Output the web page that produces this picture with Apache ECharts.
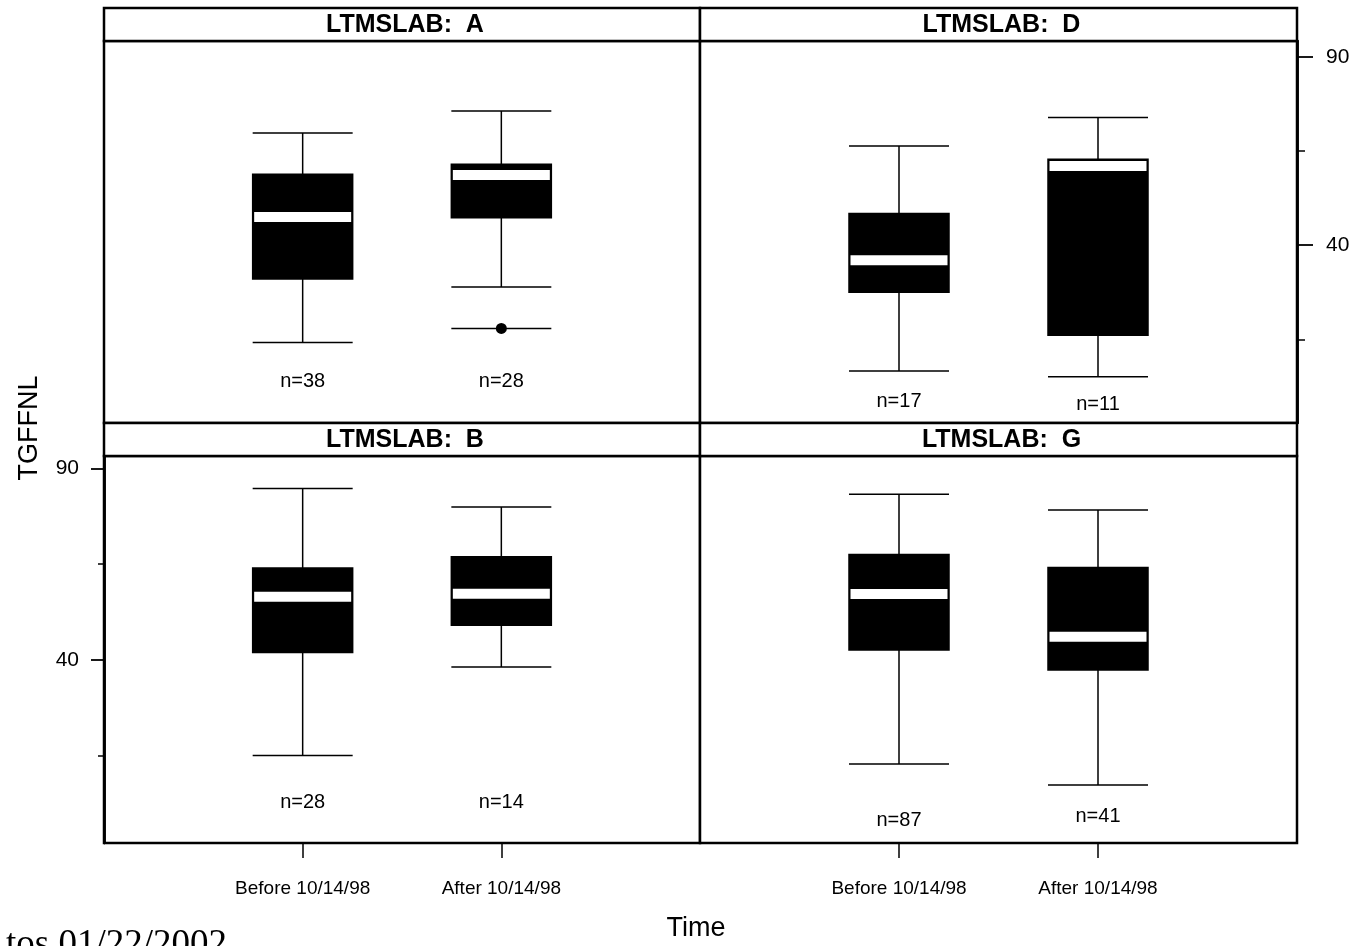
<!DOCTYPE html>
<html>
<head>
<meta charset="utf-8">
<script src="https://cdn.jsdelivr.net/npm/echarts@6/dist/echarts.min.js"></script>
<style>
  html, body { margin: 0; padding: 0; background: #fff; }
  #chart { width: 1358px; height: 946px; }
</style>
</head>
<body>
<div id="chart"></div>
<script>
// TGFFNL by lab (LTMSLAB), before vs after 10/14/98

const labs = ['A', 'D', 'B', 'G'];
const timeGroups = ['Before 10/14/98', 'After 10/14/98'];

// five-number summaries per time group: [min, Q1, median, Q3, max]
const statsA = [[14.2, 31.0, 47.5, 58.8, 69.8], [28.9, 47.3, 58.6, 61.5, 75.6]];
const statsD = [[6.6, 27.5, 36.0, 48.4, 66.3], [5.1, 16.1, 61.0, 62.8, 73.9]];
const statsB = [[15.1, 42.0, 56.5, 64.0, 84.7], [38.2, 49.1, 57.3, 66.9, 79.9]];
const statsG = [[12.9, 42.6, 57.2, 67.5, 83.2], [7.4, 37.4, 46.1, 64.1, 79.1]];

// outlying points: [time group (1 = before, 2 = after), value]
const outliersA = [[2, 17.9]];
const outliersD = [];
const outliersB = [];
const outliersG = [];

// sample sizes per time group
const countsA = [38, 28];
const countsD = [17, 11];
const countsB = [28, 14];
const countsG = [87, 41];

const yLabelTicks = [40, 90];
const yMinorTicks = [15, 65];

const panelStats = [statsA, statsD, statsB, statsG];
const panelOutliers = [outliersA, outliersD, outliersB, outliersG];
const panelCounts = [countsA, countsD, countsB, countsG];

// ---- layout ----
const SANS = "'Liberation Sans', Arial, Helvetica, sans-serif";
const cols = [{ left: 104, width: 596 }, { left: 700, width: 597 }];
const rows = [
  { strip: 8, top: 41, height: 382, min: -7.2, max: 94.2 },
  { strip: 423, top: 456, height: 387, min: -7.7, max: 93.2 }
];
// vertical level (axis units) of the "n=" text in each panel
const countLabelLevel = [[3.7, 3.7], [-1.6, -2.4], [2.8, 2.8], [-1.7, -0.9]];

const grids = [], xAxes = [], yAxes = [], series = [], graphics = [];

labs.forEach((lab, i) => {
  const col = cols[i % 2];
  const row = rows[Math.floor(i / 2)];
  const isBottom = Math.floor(i / 2) === 1;

  grids.push({
    left: col.left, top: row.top, width: col.width, height: row.height,
    show: true, borderColor: '#000', borderWidth: 2.5, backgroundColor: '#fff'
  });

  xAxes.push({
    type: 'value', gridIndex: i, min: 0, max: 3, position: 'bottom',
    show: isBottom,
    axisLine: { show: false, onZero: false },
    splitLine: { show: false },
    axisTick: {
      show: isBottom, customValues: [1, 2], length: 15, inside: false,
      lineStyle: { color: '#000', width: 1.5 }
    },
    axisLabel: {
      show: isBottom, customValues: [1, 2], margin: 36,
      formatter: v => timeGroups[Math.round(v) - 1] || '',
      color: '#000', fontSize: 19, fontFamily: SANS
    }
  });

  yAxes.push({
    type: 'value', gridIndex: i, min: row.min, max: row.max, show: false,
    splitLine: { show: false }
  });

  // strip with the lab name
  graphics.push({
    type: 'rect', z: 10,
    shape: { x: col.left, y: row.strip, width: col.width, height: row.top - row.strip },
    style: { fill: '#fff', stroke: '#000', lineWidth: 2.5 }
  });
  graphics.push({
    type: 'text', z: 11,
    x: col.left + col.width / 2 + 3, y: (row.strip + row.top) / 2 + 1,
    style: {
      text: 'LTMSLAB:  ' + lab, fill: '#000', font: 'bold 25px ' + SANS,
      align: 'center', verticalAlign: 'middle'
    }
  });

  const stats = panelStats[i];

  series.push({
    type: 'boxplot', xAxisIndex: i, yAxisIndex: i, layout: 'horizontal',
    boxWidth: [100, 100], silent: true,
    itemStyle: { color: '#000', borderColor: '#000', borderWidth: 1.5 },
    emphasis: { disabled: true },
    data: stats.map((s, k) => [k + 1].concat(s))
  });

  // white median bar across each box
  series.push({
    type: 'scatter', xAxisIndex: i, yAxisIndex: i, z: 5, silent: true,
    symbol: 'rect', symbolSize: [97, 10],
    itemStyle: { color: '#fff', opacity: 1 },
    data: stats.map((s, k) => [k + 1, s[2]])
  });

  const outs = panelOutliers[i];
  if (outs.length) {
    series.push({
      type: 'scatter', xAxisIndex: i, yAxisIndex: i, z: 5, silent: true,
      symbol: 'rect', symbolSize: [100, 1.6],
      itemStyle: { color: '#000', opacity: 1 },
      data: outs
    });
    series.push({
      type: 'scatter', xAxisIndex: i, yAxisIndex: i, z: 6, silent: true,
      symbol: 'circle', symbolSize: 11,
      itemStyle: { color: '#000', opacity: 1 },
      data: outs
    });
  }

  // sample sizes
  series.push({
    type: 'scatter', xAxisIndex: i, yAxisIndex: i, z: 6, silent: true,
    symbol: 'circle', symbolSize: 1,
    itemStyle: { color: 'rgba(0,0,0,0)', opacity: 1 },
    label: {
      show: true, position: 'inside', color: '#000', opacity: 1, fontSize: 20, fontFamily: SANS,
      formatter: p => 'n=' + p.value[2]
    },
    data: panelCounts[i].map((n, k) => [k + 1, countLabelLevel[i][k], n])
  });
});

// tick axes: left side of lab B panel, right side of lab D panel
function tickAxes(gridIndex, position, majorLen, minorLen, margin) {
  const row = rows[Math.floor(gridIndex / 2)];
  const base = {
    type: 'value', gridIndex, position, min: row.min, max: row.max,
    axisLine: { show: true, onZero: false, lineStyle: { color: '#000', width: 2.5 } },
    splitLine: { show: false }
  };
  yAxes.push(Object.assign({}, base, {
    axisTick: { show: true, customValues: yLabelTicks, length: majorLen, lineStyle: { color: '#000', width: 1.8 } },
    axisLabel: { show: true, customValues: yLabelTicks, margin, color: '#000', fontSize: 21, fontFamily: SANS }
  }));
  yAxes.push(Object.assign({}, base, {
    axisTick: { show: true, customValues: yMinorTicks, length: minorLen, lineStyle: { color: '#000', width: 1.5 } },
    axisLabel: { show: false }
  }));
}
tickAxes(2, 'left', 13, 6, 25);
tickAxes(1, 'right', 16, 8, 29);

// axis titles and footer
graphics.push({
  type: 'text', x: 30, y: 428, rotation: Math.PI / 2,
  style: { text: 'TGFFNL', fill: '#000', font: '27px ' + SANS, align: 'center', verticalAlign: 'middle' }
});
graphics.push({
  type: 'text', x: 696, y: 929,
  style: { text: 'Time', fill: '#000', font: '27px ' + SANS, align: 'center', verticalAlign: 'middle' }
});
graphics.push({
  type: 'text', x: 6, y: 964,
  style: { text: 'tos 01/22/2002', fill: '#000', font: "37px 'Liberation Serif', 'Times New Roman', serif", align: 'left', verticalAlign: 'bottom' }
});

const chart = echarts.init(document.getElementById('chart'), null, { renderer: 'canvas' });
chart.setOption({
  animation: false,
  backgroundColor: '#fff',
  grid: grids,
  xAxis: xAxes,
  yAxis: yAxes,
  series,
  graphic: graphics
});
</script>
</body>
</html>
